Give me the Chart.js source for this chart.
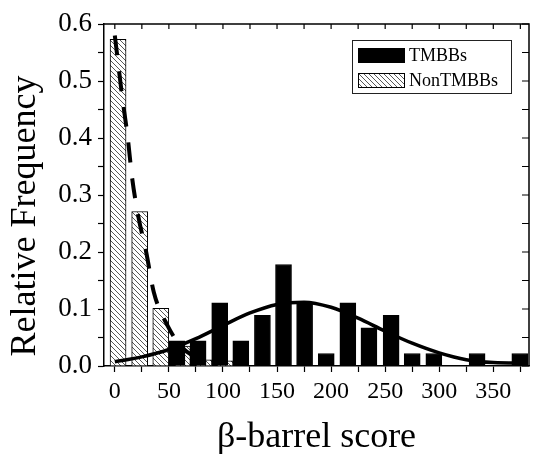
<!DOCTYPE html>
<html>
<head>
<meta charset="utf-8">
<script src="https://cdn.jsdelivr.net/npm/chart.js@4.4.1/dist/chart.umd.min.js"></script>
<style>
  html, body { margin: 0; padding: 0; background: #fff; }
  #wrap { width: 534px; height: 454px; }
</style>
</head>
<body>
<div id="wrap"><canvas id="myChart" width="534" height="454"></canvas></div>
<script>
// bin centres (beta-barrel score) and relative frequencies
const tmbbScore = [57.5, 77, 97, 116.5, 136.5, 156, 175.5, 195.5, 215.5, 235, 255.5, 275, 295, 335, 374.5];
const tmbbFreq  = [0.044, 0.044, 0.111, 0.044, 0.089, 0.178, 0.111, 0.022, 0.111, 0.067, 0.089, 0.022, 0.022, 0.022, 0.022];

const nonScore = [3, 23, 42.5, 62.5, 82.5, 102];
const nonFreq  = [0.573, 0.271, 0.101, 0.035, 0.011, 0.009];

// fitted curves as drawn
const tmbbFitX = [0, 25, 50, 75, 100, 125, 150, 175, 200, 225, 250, 275, 300, 325, 350, 380];
const tmbbFitY = [0.0075, 0.016, 0.029, 0.048, 0.071, 0.093, 0.108, 0.112, 0.103, 0.084, 0.061, 0.040, 0.023, 0.011, 0.006, 0.005];

const nonFitX = [0, 7, 12, 16, 22, 29, 36, 49, 61, 72, 83, 93];
const nonFitY = [0.58, 0.47, 0.40, 0.33, 0.26, 0.20, 0.13, 0.07, 0.035, 0.018, 0.008, 0.004];

// x ticks every 25, labelled every 50
const xTicks = [0, 25, 50, 75, 100, 125, 150, 175, 200, 225, 250, 275, 300, 325, 350, 375];

const seriesNames = ['TMBBs', 'NonTMBBs'];
const yTitle = 'Relative Frequency';
const xTitle = 'β-barrel score';

const serif = 'Liberation Serif, Times New Roman, serif';

function toPoints(xs, ys) {
    return xs.map((x, i) => ({ x: x, y: ys[i] }));
}

// diagonal hatch fill
function makeHatch() {
    const c = document.createElement('canvas');
    c.width = 5; c.height = 5;
    const g = c.getContext('2d');
    g.fillStyle = '#fff';
    g.fillRect(0, 0, 5, 5);
    g.strokeStyle = '#444';
    g.lineWidth = 0.9;
    g.beginPath();
    g.moveTo(-1, -1); g.lineTo(6, 6);
    g.moveTo(-1, 4); g.lineTo(1, 6);
    g.moveTo(4, -1); g.lineTo(6, 1);
    g.stroke();
    return g.createPattern(c, 'repeat');
}
const hatch = makeHatch();

// top / right frame with inward ticks, legend box, y title
const framePlugin = {
    id: 'frame',
    afterDatasetsDraw(chart) {
        const { ctx, chartArea: a, scales } = chart;
        ctx.save();
        ctx.strokeStyle = '#000';
        ctx.lineWidth = 1.5;
        ctx.beginPath();
        ctx.moveTo(a.left, a.top); ctx.lineTo(a.right, a.top); ctx.lineTo(a.right, a.bottom);
        ctx.stroke();
        ctx.lineWidth = 1.2;
        ctx.beginPath();
        scales.x.ticks.forEach(t => {
            const px = scales.x.getPixelForValue(t.value);
            ctx.moveTo(px, a.top); ctx.lineTo(px, a.top + 5);
        });
        scales.y.ticks.forEach(t => {
            const py = scales.y.getPixelForValue(t.value);
            ctx.moveTo(a.right, py); ctx.lineTo(a.right - 7, py);
        });
        ctx.stroke();

        // legend
        const lx = 352, ly = 40, lw = 159, lh = 53;
        ctx.fillStyle = '#fff';
        ctx.fillRect(lx, ly, lw, lh);
        ctx.lineWidth = 1;
        ctx.strokeStyle = '#222';
        ctx.strokeRect(lx + 0.5, ly + 0.5, lw, lh);
        ctx.fillStyle = '#000';
        ctx.fillRect(358, 48, 47, 15);
        ctx.fillStyle = hatch;
        ctx.fillRect(358, 73, 47, 15);
        ctx.strokeStyle = '#000';
        ctx.strokeRect(358.5, 73.5, 46, 14);
        ctx.fillStyle = '#000';
        ctx.font = '18px ' + serif;
        ctx.textBaseline = 'middle';
        ctx.fillText(seriesNames[0], 409, 56);
        ctx.fillText(seriesNames[1], 409, 81);

        // y axis title (sits a little below the axis centre in the original)
        ctx.translate(26, 216);
        ctx.rotate(-Math.PI / 2);
        ctx.font = '36px ' + serif;
        ctx.textAlign = 'center';
        ctx.fillText(yTitle, 0, 0);
        ctx.restore();
    }
};

const ctx = document.getElementById('myChart');

new Chart(ctx, {
    data: {
        datasets: [
            {
                type: 'line',
                label: 'TMBBs fit',
                data: toPoints(tmbbFitX, tmbbFitY),
                borderColor: '#000',
                borderWidth: 3.5,
                pointRadius: 0,
                cubicInterpolationMode: 'monotone',
                order: 0
            },
            {
                type: 'line',
                label: 'NonTMBBs fit',
                data: toPoints(nonFitX, nonFitY),
                borderColor: '#000',
                borderWidth: 4,
                borderDash: [20, 16],
                pointRadius: 0,
                cubicInterpolationMode: 'monotone',
                order: 0
            },
            {
                type: 'bar',
                label: seriesNames[0],
                data: toPoints(tmbbScore, tmbbFreq),
                backgroundColor: '#000',
                borderColor: '#000',
                borderWidth: 1,
                barThickness: 16,
                grouped: false,
                order: 1
            },
            {
                type: 'bar',
                label: seriesNames[1],
                data: toPoints(nonScore, nonFreq),
                backgroundColor: hatch,
                borderColor: '#000',
                borderWidth: 1,
                barThickness: 16,
                grouped: false,
                order: 2
            }
        ]
    },
    options: {
        responsive: false,
        animation: false,
        maintainAspectRatio: false,
        layout: { padding: { top: 24, right: 5, left: 0, bottom: 0 } },
        plugins: {
            legend: { display: false },
            tooltip: { enabled: false }
        },
        scales: {
            x: {
                type: 'linear',
                min: -10,
                max: 383,
                offset: false,
                afterBuildTicks: s => { s.ticks = xTicks.map(v => ({ value: v })); },
                afterFit: s => { s.height = 88; },
                ticks: {
                    autoSkip: false,
                    maxRotation: 0,
                    color: '#000',
                    padding: 5,
                    font: { family: serif, size: 24 },
                    callback: v => (v % 50 === 0 ? String(v) : '')
                },
                grid: { offset: false, drawOnChartArea: false, tickLength: 6, tickWidth: 1.2, color: '#000' },
                border: { color: '#000', width: 1.5 },
                title: {
                    display: true,
                    text: xTitle,
                    color: '#000',
                    font: { family: serif, size: 36, lineHeight: 0.9 },
                    padding: { top: 0, bottom: 0 }
                }
            },
            y: {
                min: 0,
                max: 0.6,
                afterFit: s => { s.width = 104; },
                ticks: {
                    stepSize: 0.05,
                    autoSkip: false,
                    color: '#000',
                    padding: 6,
                    font: { family: serif, size: 27 },
                    callback: v => (Math.round(v * 100) % 10 === 0 ? v.toFixed(1) : '')
                },
                grid: { drawOnChartArea: false, tickLength: 6, tickWidth: 1.2, color: '#000' },
                border: { color: '#000', width: 1.5 }
            }
        }
    },
    plugins: [framePlugin]
});
</script>
</body>
</html>
